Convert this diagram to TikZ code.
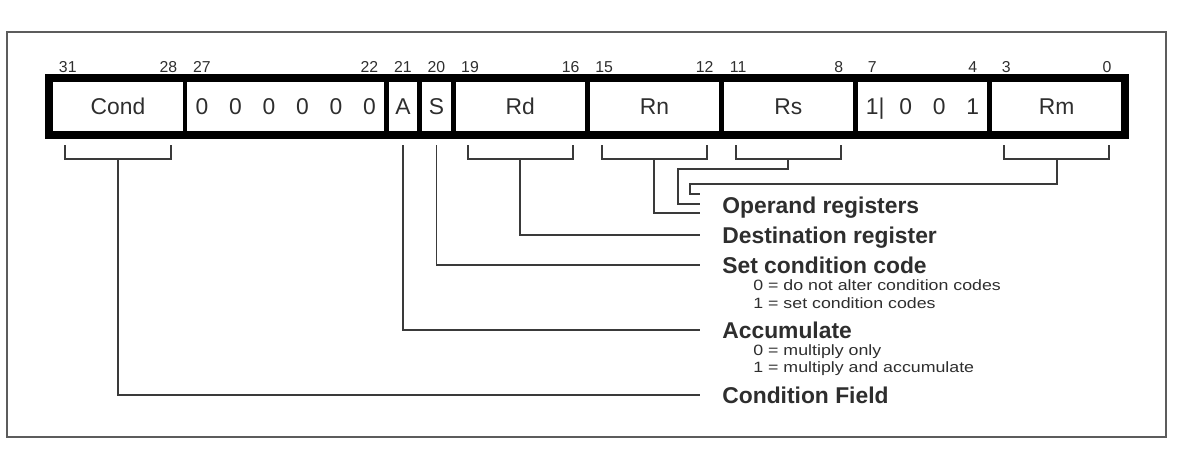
\documentclass[tikz,border=0pt]{standalone}
\usepackage{fontspec}
\setmainfont{Liberation Sans}
\setsansfont{Liberation Sans}
\newfontfamily\subfont[FakeStretch=1.19]{Liberation Sans}
\usepackage{tikz}
\usetikzlibrary{calc,positioning}
\definecolor{ink}{HTML}{2E2E2E}
\definecolor{wirec}{HTML}{3A3A3A}
\definecolor{framec}{HTML}{5C5C5C}
\tikzset{
  font=\sffamily,
  field/.style={
    draw=black, line width=2.7pt, minimum height=10.8mm, inner sep=0pt,
    text=ink, text height=9.3pt, text depth=0pt,
    font=\sffamily\fontsize{13}{15}\selectfont
  },
  onebit/.style={field, minimum width=6.704mm},
  nibble/.style={field, minimum width=26.816mm},
  sixbit/.style={field, minimum width=40.224mm},
  bitno/.style={font=\sffamily\fontsize{9}{10}\selectfont, text=ink, inner sep=0pt},
  wire/.style={draw=wirec, line width=1.1pt},
  tolabel/.style={wire, shorten >=4.4mm},
  lbl/.style={
    anchor=west, inner sep=0pt, text=ink, text height=9.3pt, text depth=0pt,
    font=\sffamily\bfseries\fontsize{13}{15}\selectfont
  },
  sublbl/.style={
    anchor=west, inner sep=0pt, text=ink, text height=6.1pt, text depth=0pt,
    font=\subfont\fontsize{8.5}{10}\selectfont
  },
  boxframe/.style={draw=framec, line width=1.4pt}
}
\newcommand{\bitcell}[1]{\makebox[6.704mm]{#1}}
\newcommand{\fieldbracket}[2]{%
  \draw[wire] ([shift={(0.3352cm,-0.19cm)}]#1.south west)
    |- ([yshift=-0.47cm]#1.south) -| ([shift={(-0.3352cm,-0.19cm)}]#1.south east);
  \coordinate (#2) at ([yshift=-0.47cm]#1.south);
}

\begin{document}
\begin{tikzpicture}[x=0.02cm,y=-0.02cm]
  \useasboundingbox (0,0) rectangle (1199,474);
  \draw[boxframe] (7,32) rectangle (1166,437);

  % bit numbers
  \foreach \b in {31,28,27,22,21,20,19,16,15,12,11,8,7,4,3,0}
    \node[bitno] (b\b) at ({51+(31-\b)*33.52+16.76},67) {\b};

  % instruction fields
  \node[nibble] (cond) at (118.04,106.5) {Cond};
  \node[sixbit] (zeros) at (285.64,106.5)
     {\bitcell{0}\bitcell{0}\bitcell{0}\bitcell{0}\bitcell{0}\bitcell{0}};
  \node[onebit] (abit) at (402.96,106.5) {A};
  \node[onebit] (sbit) at (436.48,106.5) {S};
  \node[nibble] (rd) at (520.28,106.5) {Rd};
  \node[nibble] (rn) at (654.36,106.5) {Rn};
  \node[nibble] (rs) at (788.44,106.5) {Rs};
  \node[nibble] (mul) at (922.52,106.5)
     {\bitcell{1\rlap{|}}\bitcell{0}\bitcell{0}\bitcell{1}};
  \node[nibble] (rm) at (1056.6,106.5) {Rm};
  \draw[black, line width=3.8pt] (cond.north west) rectangle (rm.south east);

  % brackets
  \fieldbracket{cond}{condb}
  \fieldbracket{rd}{rdb}
  \fieldbracket{rn}{rnb}
  \fieldbracket{rs}{rsb}
  \fieldbracket{rm}{rmb}

  % labels
  \node[lbl] (oper) at (722,205) {Operand registers};
  \node[lbl] (dest) at (722,235) {Destination register};
  \node[lbl] (scc) at (722,265) {Set condition code};
  \node[sublbl] (scc0) at (753,285) {0 = do not alter condition codes};
  \node[sublbl] (scc1) at (753,303) {1 = set condition codes};
  \node[lbl] (acc) at (722,330) {Accumulate};
  \node[sublbl] (acc0) at (753,350) {0 = multiply only};
  \node[sublbl] (acc1) at (753,367) {1 = multiply and accumulate};
  \node[lbl] (condf) at (722,395) {Condition Field};

  % operand lines
  \coordinate (opm) at (700,194);
  \coordinate (ops) at (700,204);
  \coordinate (opn) at (700,213);
  \draw[wire] (rmb) |- (690,184) |- (opm);
  \draw[wire] (rsb) |- (678,169) |- (ops);
  \draw[wire] (rnb) |- (opn);

  % other lines
  \draw[tolabel] (rdb) |- (dest.west);
  \draw[tolabel] ([yshift=-0.19cm]sbit.south) |- (scc.west);
  \draw[tolabel] ([yshift=-0.19cm]abit.south) |- (acc.west);
  \draw[tolabel] (condb) |- (condf.west);
\end{tikzpicture}
\end{document}
